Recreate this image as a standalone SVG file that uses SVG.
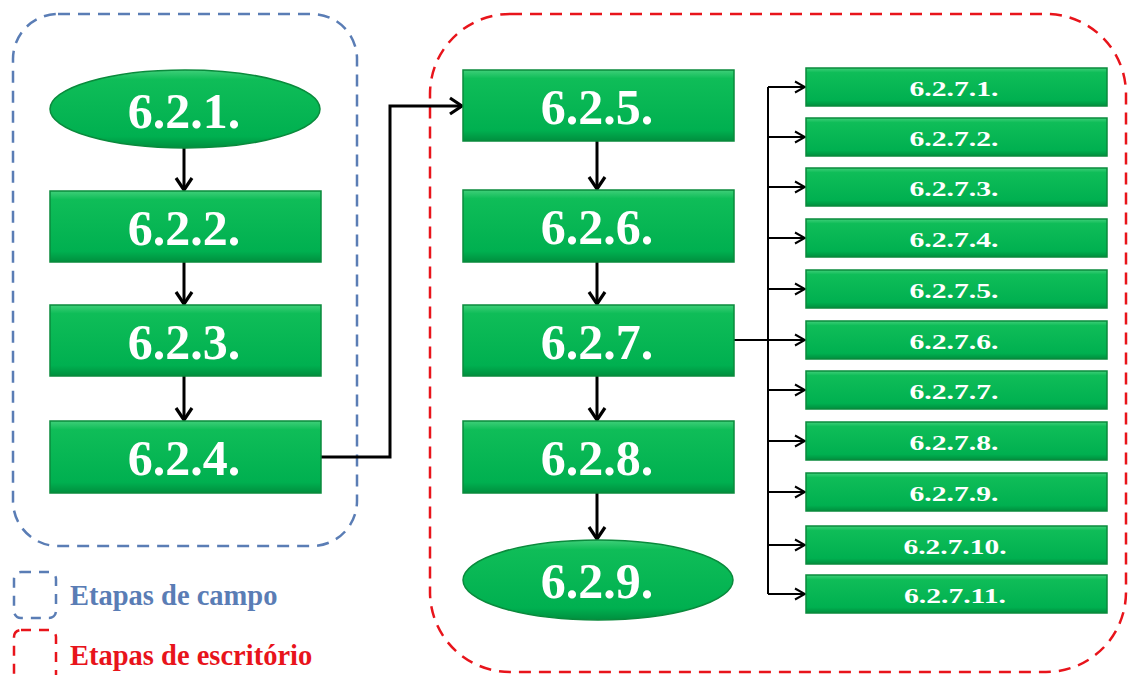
<svg xmlns="http://www.w3.org/2000/svg" width="1129" height="675" viewBox="0 0 1129 675">
<defs>
<linearGradient id="g" x1="0" y1="0" x2="0" y2="1">
<stop offset="0" stop-color="#3fcf79"/>
<stop offset="0.12" stop-color="#0fbd58"/>
<stop offset="0.85" stop-color="#00b050"/>
<stop offset="1" stop-color="#008f3e"/>
</linearGradient>
<marker id="ah" viewBox="0 0 16 20" refX="14" refY="10" markerWidth="16" markerHeight="20" markerUnits="userSpaceOnUse" orient="auto">
<path d="M2,2 L14,10 L2,18" fill="none" stroke="#000" stroke-width="3.2"/>
</marker>
<marker id="ahs" viewBox="0 0 12 14" refX="11" refY="7" markerWidth="12" markerHeight="14" markerUnits="userSpaceOnUse" orient="auto">
<path d="M1,1.5 L11,7 L1,12.5" fill="none" stroke="#000" stroke-width="2"/>
</marker>
</defs>
<style>
.n{fill:url(#g);stroke:#0a8a3c;stroke-width:1.5}
.t{font-family:"Liberation Serif",serif;font-weight:bold;fill:#fff;text-anchor:middle}
.big{font-size:50px}
.sm{font-size:21px}
.c{fill:none;stroke:#000;stroke-width:3}
.cs{fill:none;stroke:#000;stroke-width:2}
.blue{fill:none;stroke:#5a7db5;stroke-width:2.5;stroke-dasharray:12 8}
.red{fill:none;stroke:#e8141b;stroke-width:2.5;stroke-dasharray:12 8}
.leg{font-family:"Liberation Serif",serif;font-weight:bold;font-size:28.5px}
</style>
<rect class="blue" x="13" y="14" width="344" height="532" rx="45" ry="45"/>
<rect class="red" x="430" y="14" width="696" height="658" rx="80" ry="80"/>

<g id="connectors">
<line class="c" x1="184" y1="148" x2="184" y2="190" marker-end="url(#ah)"/>
<line class="c" x1="184" y1="262" x2="184" y2="304" marker-end="url(#ah)"/>
<line class="c" x1="184" y1="376" x2="184" y2="420" marker-end="url(#ah)"/>
<polyline class="c" points="321,457 390,457 390,106 462,106" marker-end="url(#ah)"/>
<line class="c" x1="597" y1="141" x2="597" y2="189" marker-end="url(#ah)"/>
<line class="c" x1="597" y1="262" x2="597" y2="304" marker-end="url(#ah)"/>
<line class="c" x1="597" y1="376" x2="597" y2="420" marker-end="url(#ah)"/>
<line class="c" x1="597" y1="493" x2="597" y2="539" marker-end="url(#ah)"/>
<line class="cs" x1="734" y1="340" x2="768" y2="340"/>
<line class="cs" x1="768" y1="87" x2="768" y2="594"/>
<line class="cs" x1="768" y1="87" x2="805" y2="87" marker-end="url(#ahs)"/>
<line class="cs" x1="768" y1="137" x2="805" y2="137" marker-end="url(#ahs)"/>
<line class="cs" x1="768" y1="187" x2="805" y2="187" marker-end="url(#ahs)"/>
<line class="cs" x1="768" y1="238" x2="805" y2="238" marker-end="url(#ahs)"/>
<line class="cs" x1="768" y1="289" x2="805" y2="289" marker-end="url(#ahs)"/>
<line class="cs" x1="768" y1="340" x2="805" y2="340" marker-end="url(#ahs)"/>
<line class="cs" x1="768" y1="390" x2="805" y2="390" marker-end="url(#ahs)"/>
<line class="cs" x1="768" y1="441" x2="805" y2="441" marker-end="url(#ahs)"/>
<line class="cs" x1="768" y1="492" x2="805" y2="492" marker-end="url(#ahs)"/>
<line class="cs" x1="768" y1="545" x2="805" y2="545" marker-end="url(#ahs)"/>
<line class="cs" x1="768" y1="594" x2="805" y2="594" marker-end="url(#ahs)"/>
</g>

<g id="n621"><ellipse class="n" cx="185" cy="109" rx="135" ry="39"/><text class="t big" x="184" y="128">6.2.1.</text></g>
<g id="n622"><rect class="n" x="50" y="191" width="271" height="71"/><text class="t big" x="184" y="245">6.2.2.</text></g>
<g id="n623"><rect class="n" x="50" y="305" width="271" height="71"/><text class="t big" x="184" y="359">6.2.3.</text></g>
<g id="n624"><rect class="n" x="50" y="421" width="271" height="72"/><text class="t big" x="184" y="475">6.2.4.</text></g>

<g id="n625"><rect class="n" x="463" y="70" width="271" height="71"/><text class="t big" x="597" y="124">6.2.5.</text></g>
<g id="n626"><rect class="n" x="463" y="190" width="271" height="72"/><text class="t big" x="597" y="244">6.2.6.</text></g>
<g id="n627"><rect class="n" x="463" y="305" width="271" height="71"/><text class="t big" x="597" y="359">6.2.7.</text></g>
<g id="n628"><rect class="n" x="463" y="421" width="271" height="72"/><text class="t big" x="597" y="475">6.2.8.</text></g>
<g id="n629"><ellipse class="n" cx="598" cy="580" rx="135" ry="40"/><text class="t big" x="597" y="598">6.2.9.</text></g>

<g id="n6271"><rect class="n" x="806" y="68" width="301" height="38"/><text class="t sm" x="954" y="96" textLength="89" lengthAdjust="spacingAndGlyphs">6.2.7.1.</text></g>
<g id="n6272"><rect class="n" x="806" y="118" width="301" height="38"/><text class="t sm" x="954" y="146" textLength="89" lengthAdjust="spacingAndGlyphs">6.2.7.2.</text></g>
<g id="n6273"><rect class="n" x="806" y="168" width="301" height="38"/><text class="t sm" x="954" y="196" textLength="89" lengthAdjust="spacingAndGlyphs">6.2.7.3.</text></g>
<g id="n6274"><rect class="n" x="806" y="219" width="301" height="38"/><text class="t sm" x="954" y="247" textLength="89" lengthAdjust="spacingAndGlyphs">6.2.7.4.</text></g>
<g id="n6275"><rect class="n" x="806" y="270" width="301" height="38"/><text class="t sm" x="954" y="298" textLength="89" lengthAdjust="spacingAndGlyphs">6.2.7.5.</text></g>
<g id="n6276"><rect class="n" x="806" y="321" width="301" height="38"/><text class="t sm" x="954" y="349" textLength="89" lengthAdjust="spacingAndGlyphs">6.2.7.6.</text></g>
<g id="n6277"><rect class="n" x="806" y="371" width="301" height="38"/><text class="t sm" x="954" y="399" textLength="89" lengthAdjust="spacingAndGlyphs">6.2.7.7.</text></g>
<g id="n6278"><rect class="n" x="806" y="422" width="301" height="38"/><text class="t sm" x="954" y="450" textLength="89" lengthAdjust="spacingAndGlyphs">6.2.7.8.</text></g>
<g id="n6279"><rect class="n" x="806" y="473" width="301" height="38"/><text class="t sm" x="954" y="501" textLength="89" lengthAdjust="spacingAndGlyphs">6.2.7.9.</text></g>
<g id="n62710"><rect class="n" x="806" y="526" width="301" height="38"/><text class="t sm" x="955" y="554" textLength="103" lengthAdjust="spacingAndGlyphs">6.2.7.10.</text></g>
<g id="n62711"><rect class="n" x="806" y="575" width="301" height="38"/><text class="t sm" x="955" y="603" textLength="102" lengthAdjust="spacingAndGlyphs">6.2.7.11.</text></g>

<g id="legend">
<rect class="blue" x="14" y="572" width="42" height="46" rx="7" ry="7" style="stroke-dasharray:10 8"/>
<text class="leg" x="70" y="605" fill="#5a7db5">Etapas de campo</text>
<rect class="red" x="14" y="630" width="42" height="60" rx="7" ry="7" style="stroke-dasharray:10 8"/>
<text class="leg" x="70" y="665" fill="#e8141b">Etapas de escritório</text>
</g>
</svg>
